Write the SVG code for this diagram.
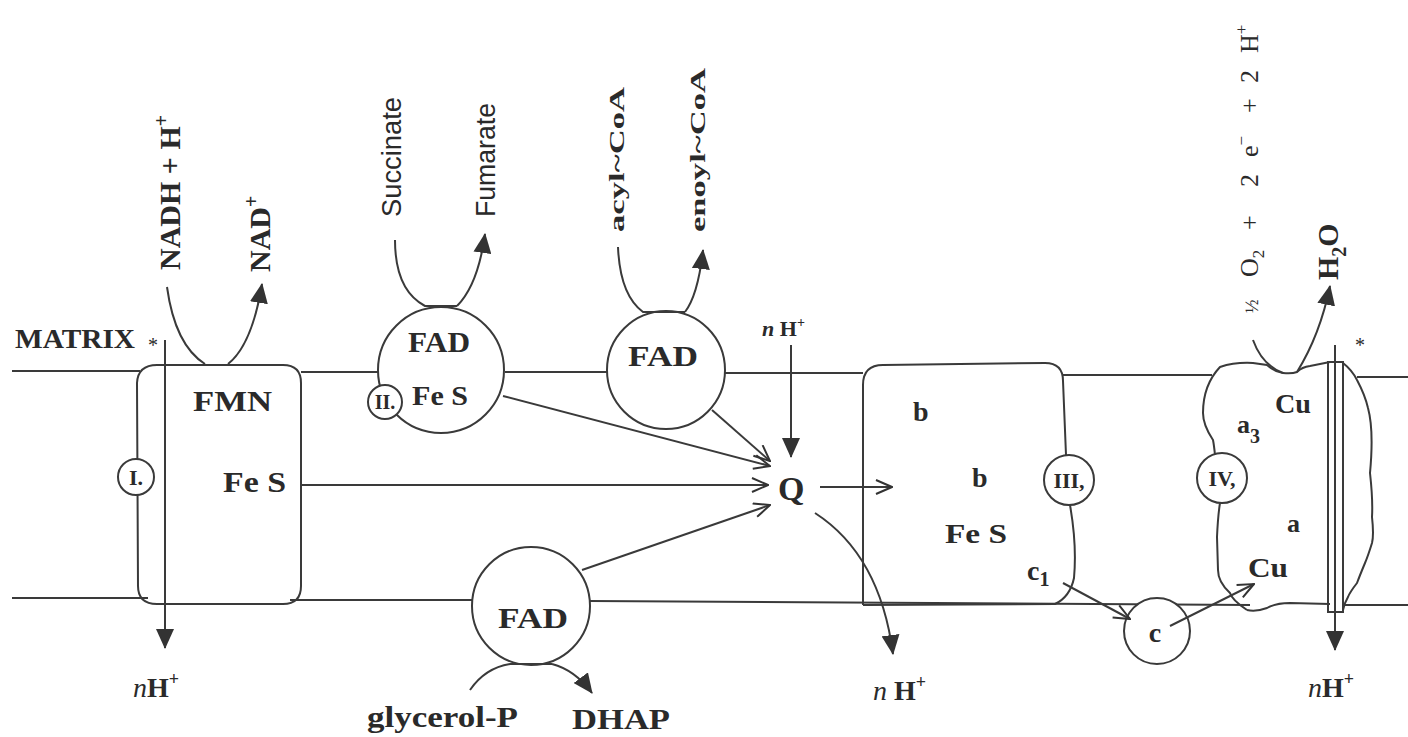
<svg xmlns="http://www.w3.org/2000/svg" width="1408" height="737" viewBox="0 0 1408 737">
<style>
.ln{fill:none;stroke:#3a3a3a;stroke-width:2}
.cx{fill:none;stroke:#3a3a3a;stroke-width:2}
.wc{fill:#fff;stroke:#3a3a3a;stroke-width:2}
.tb{font-family:"Liberation Serif",serif;font-weight:bold;fill:#2a2a2a}
.tr{font-family:"Liberation Serif",serif;fill:#2a2a2a}
.ts{font-family:"Liberation Sans",sans-serif;fill:#2a2a2a}
.it{font-style:italic}
</style>
<defs>
<marker id="af" markerUnits="userSpaceOnUse" markerWidth="20" markerHeight="18" viewBox="0 0 20 18" refX="19" refY="9" orient="auto"><path d="M0,0 L20,9 L0,18 Z" fill="#333"/></marker>
<marker id="ao" markerUnits="userSpaceOnUse" markerWidth="18" markerHeight="16" viewBox="0 0 18 16" refX="17" refY="8" orient="auto"><path d="M1,1 L17,8 L1,15" fill="none" stroke="#333" stroke-width="2"/></marker>
</defs>
<rect width="1408" height="737" fill="#fff"/>

<g id="membrane">
<path class="ln" d="M12,371 L140,371 M301,372 L378,372 M505,372 L607,372 M725,373 L863,373 M1063,375 L1212,375 M1357,377 L1408,377"/>
<path class="ln" d="M12,598 L148,598 M290,600 L472,600 M590,601 L1250,605 M1345,605 L1408,605"/>
<text class="tb" x="15" y="348" font-size="27" textLength="120" lengthAdjust="spacingAndGlyphs">MATRIX</text>
<text class="tr" x="148" y="352" font-size="20">*</text>
<text class="tr" x="1355" y="352" font-size="20">*</text>
</g>

<g id="complex-I">
<path class="cx" d="M157,365 L283,365 Q301,365 301,383 L301,586 Q301,604 283,604 L157,604 Q138,604 138,586 L137,383 Q138,365 157,365 Z"/>
<circle class="wc" cx="136" cy="477" r="18"/>
<text class="tb" x="136" y="485" font-size="22" text-anchor="middle">I.</text>
<text class="tb" x="193" y="411" font-size="30" textLength="79" lengthAdjust="spacingAndGlyphs">FMN</text>
<text class="tb" x="223" y="492" font-size="30" textLength="63" lengthAdjust="spacingAndGlyphs">Fe S</text>
</g>

<g id="nadh">
<text class="tb" transform="translate(180,270) rotate(-90)" font-size="30">NADH + H<tspan font-size="20" dy="-12">+</tspan></text>
<text class="tb" transform="translate(270,272) rotate(-90)" font-size="30">NAD<tspan font-size="20" dy="-12">+</tspan></text>
</g>

<g id="complex-II">
<circle class="wc" cx="441" cy="370" r="63"/>
<circle class="wc" cx="385" cy="402" r="17"/>
<text class="tb" x="385" y="409" font-size="20" text-anchor="middle">II.</text>
<text class="tb" x="408" y="352" font-size="30" textLength="62" lengthAdjust="spacingAndGlyphs">FAD</text>
<text class="tb" x="412" y="405" font-size="28" textLength="56" lengthAdjust="spacingAndGlyphs">Fe S</text>
<text class="ts" transform="translate(401,217) rotate(-90)" font-size="27" textLength="120" lengthAdjust="spacingAndGlyphs">Succinate</text>
<text class="ts" transform="translate(495,217) rotate(-90)" font-size="27" textLength="114" lengthAdjust="spacingAndGlyphs">Fumarate</text>
</g>

<g id="acyl-fad">
<circle class="wc" cx="666" cy="370" r="59"/>
<text class="tb" x="628" y="366" font-size="30" textLength="70" lengthAdjust="spacingAndGlyphs">FAD</text>
<text class="tb" transform="translate(624,232) rotate(-90)" font-size="22" textLength="145" lengthAdjust="spacingAndGlyphs">acyl~CoA</text>
<text class="tb" transform="translate(705,232) rotate(-90)" font-size="22" textLength="164" lengthAdjust="spacingAndGlyphs">enoyl~CoA</text>
</g>

<g id="glycerol-fad">
<circle class="wc" cx="531" cy="606" r="59"/>
<text class="tb" x="498" y="628" font-size="30" textLength="70" lengthAdjust="spacingAndGlyphs">FAD</text>
<text class="tb" x="367" y="727" font-size="30" textLength="151" lengthAdjust="spacingAndGlyphs">glycerol-P</text>
<text class="tb" x="572" y="729" font-size="30" textLength="98" lengthAdjust="spacingAndGlyphs">DHAP</text>
</g>

<g id="Q">
<text class="tb" x="778" y="500" font-size="34">Q</text>
<text class="tb" x="762" y="336" font-size="22"><tspan class="it">n</tspan> H<tspan font-size="14" dy="-9">+</tspan></text>
</g>

<g id="complex-III">
<path class="cx" d="M863,605 L863,385 Q863,365 883,365 L1045,363 Q1063,363 1063,381 L1066,455"/>
<path class="cx" d="M1070,505 Q1077,545 1074,578 Q1070,597 1055,604 L863,605"/>
<circle class="wc" cx="1069" cy="480" r="25"/>
<text class="tb" x="1069" y="488" font-size="22" text-anchor="middle">III,</text>
<text class="tb" x="913" y="421" font-size="28">b</text>
<text class="tb" x="972" y="487" font-size="28">b</text>
<text class="tb" x="945" y="543" font-size="28" textLength="62" lengthAdjust="spacingAndGlyphs">Fe S</text>
<text class="tb" x="1027" y="580" font-size="28">c<tspan font-size="20" dy="6">1</tspan></text>
</g>

<g id="cytochrome-c">
<circle class="wc" cx="1157" cy="631" r="33"/>
<text class="tb" x="1155" y="642" font-size="28" text-anchor="middle">c</text>
</g>

<g id="complex-IV">
<path class="cx" d="M1247,610 Q1232,600 1230,593 Q1218,582 1218,570 L1217,537 Q1218,515 1220,503"/>
<path class="cx" d="M1215,455 Q1214,445 1213,440 Q1203,425 1203,413 Q1203,385 1220,367 Q1235,362 1253,363 L1267,365 Q1275,372 1283,373 Q1292,374 1297,372 Q1302,367 1310,366 L1330,362"/>
<path class="cx" d="M1247,610 Q1256,612 1267,608 Q1276,603 1290,603 L1330,604"/>
<circle class="wc" cx="1222" cy="478" r="25"/>
<text class="tb" x="1222" y="486" font-size="22" text-anchor="middle">IV,</text>
<path class="cx" d="M1343,363 Q1352,370 1357,380 Q1365,395 1368,408 Q1374,430 1370,473 Q1373,500 1372,517 Q1374,535 1372,543 Q1368,556 1365,563 Q1360,575 1357,583 Q1350,592 1348,597 Q1344,604 1343,610"/>
<rect x="1328" y="362" width="15" height="250" fill="none" stroke="#3a3a3a" stroke-width="2"/>
<text class="tb" x="1275" y="413" font-size="28" textLength="36" lengthAdjust="spacingAndGlyphs">Cu</text>
<text class="tb" x="1237" y="433" font-size="26">a<tspan font-size="20" dy="10">3</tspan></text>
<text class="tb" x="1287" y="532" font-size="26">a</text>
<text class="tb" x="1248" y="577" font-size="28" textLength="40" lengthAdjust="spacingAndGlyphs">Cu</text>
<text class="tr" transform="translate(1258,313) rotate(-90)" font-size="26"><tspan x="0" font-size="18">½</tspan><tspan x="36">O</tspan><tspan font-size="17" dy="6">2</tspan><tspan x="83" dy="-6">+</tspan><tspan x="126">2</tspan><tspan x="156">e</tspan><tspan font-size="17" dy="-11">−</tspan><tspan x="200" dy="11">+</tspan><tspan x="230">2</tspan><tspan x="260">H</tspan><tspan font-size="17" dy="-11">+</tspan></text>
<text class="tb" transform="translate(1338,280) rotate(-90)" font-size="30">H<tspan font-size="20" dy="8">2</tspan><tspan dy="-8">O</tspan></text>
</g>

<g id="proton-labels">
<text class="tb" x="133" y="697" font-size="28"><tspan class="it" font-weight="normal">n</tspan>H<tspan font-size="18" dy="-12">+</tspan></text>
<text class="tb" x="873" y="700" font-size="28"><tspan class="it" font-weight="normal">n</tspan> H<tspan font-size="18" dy="-12">+</tspan></text>
<text class="tb" x="1308" y="697" font-size="28"><tspan class="it" font-weight="normal">n</tspan>H<tspan font-size="18" dy="-12">+</tspan></text>
</g>

<g id="connectors">
<path class="ln" d="M165,340 L165,648" marker-end="url(#af)"/>
<path class="ln" d="M167,287 Q175,345 205,364"/>
<path class="ln" d="M228,364 Q252,345 262,284" marker-end="url(#af)"/>
<path class="ln" d="M395,240 Q395,290 425,306 L457,306"/>
<path class="ln" d="M457,306 Q478,285 485,234" marker-end="url(#af)"/>
<path class="ln" d="M618,247 Q620,295 643,312 L685,312"/>
<path class="ln" d="M685,312 Q698,295 703,250" marker-end="url(#af)"/>
<path class="ln" d="M470,690 Q485,668 510,664 L552,664"/>
<path class="ln" d="M552,664 Q575,670 592,693" marker-end="url(#af)"/>
<path class="ln" d="M503,396 L770,466" marker-end="url(#ao)"/>
<path class="ln" d="M712,410 L770,461" marker-end="url(#ao)"/>
<path class="ln" d="M301,485 L768,485" marker-end="url(#ao)"/>
<path class="ln" d="M582,570 L770,505" marker-end="url(#ao)"/>
<path class="ln" d="M791,345 L791,457" marker-end="url(#af)"/>
<path class="ln" d="M820,487 L892,487" marker-end="url(#ao)"/>
<path class="ln" d="M815,513 Q880,555 893,654" marker-end="url(#af)"/>
<path class="ln" d="M1063,583 L1130,619" marker-end="url(#ao)"/>
<path class="ln" d="M1170,626 L1254,584" marker-end="url(#ao)"/>
<path class="ln" d="M1253,340 Q1262,365 1283,373"/>
<path class="ln" d="M1297,372 Q1320,335 1330,286" marker-end="url(#af)"/>
<path class="ln" d="M1335,345 L1335,650" marker-end="url(#af)"/>
</g>
</svg>
